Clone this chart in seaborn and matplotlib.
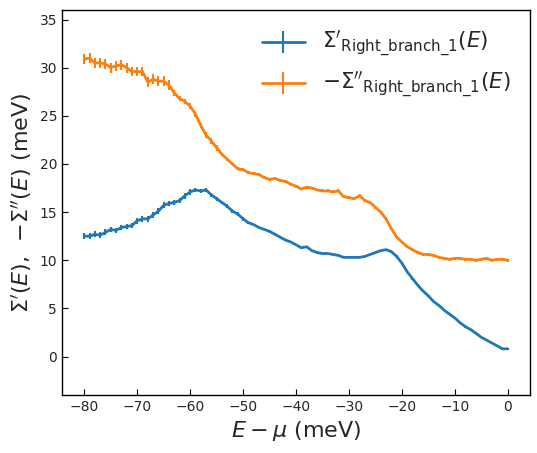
import numpy as np
import matplotlib
matplotlib.use("Agg")
import matplotlib.pyplot as plt
import seaborn as sns

# energy grid (meV)
energy = list(range(-80, 1))

# real part Sigma'
sigma_re = [12.5, 12.5, 12.7, 12.6, 12.9, 13.2, 13.1, 13.4, 13.5, 13.6,
            14.1, 14.3, 14.3, 14.7, 15.1, 15.7, 15.9, 16.0, 16.2, 16.7,
            17.1, 17.3, 17.2, 17.3, 16.8, 16.4, 16.0, 15.6, 15.1, 14.8,
            14.3, 13.9, 13.7, 13.4, 13.2, 13.0, 12.7, 12.4, 12.1, 11.9,
            11.6, 11.3, 11.4, 11.0, 10.8, 10.7, 10.7, 10.6, 10.5, 10.3,
            10.3, 10.3, 10.3, 10.4, 10.6, 10.8, 11.0, 11.1, 10.9, 10.4,
            9.7, 8.8, 8.1, 7.4, 6.8, 6.3, 5.7, 5.3, 4.8, 4.4,
            4.0, 3.5, 3.1, 2.8, 2.4, 2.0, 1.7, 1.4, 1.1, 0.8, 0.8]
sigma_re_err = [0.3] * 21 + [0.2] * 10 + [0.1] * 50

# minus imaginary part -Sigma''
sigma_im = [30.9, 31.0, 30.5, 30.5, 30.4, 30.0, 30.2, 30.3, 30.0, 29.6,
            29.6, 29.6, 28.5, 28.8, 28.6, 28.6, 28.2, 27.4, 26.8, 26.5,
            26.0, 25.2, 24.0, 23.0, 22.4, 21.7, 21.0, 20.5, 20.0, 19.5,
            19.4, 19.1, 19.0, 18.9, 18.6, 18.4, 18.5, 18.3, 18.2, 17.9,
            17.7, 17.4, 17.6, 17.5, 17.3, 17.2, 17.2, 17.1, 17.2, 16.6,
            16.5, 16.4, 16.7, 16.2, 16.0, 15.5, 15.0, 14.3, 13.3, 12.4,
            11.9, 11.4, 11.1, 10.8, 10.6, 10.6, 10.5, 10.3, 10.2, 10.1,
            10.2, 10.2, 10.1, 10.1, 10.0, 10.1, 10.2, 10.0, 10.1, 10.1, 10.0]
sigma_im_err = [0.5] * 17 + [0.3] * 9 + [0.15] * 55

sns.set_style("ticks", {"xtick.direction": "in", "ytick.direction": "in"})
colors = sns.color_palette("tab10")

fig, ax = plt.subplots(figsize=(5.37, 4.53), dpi=100)
fig.subplots_adjust(left=0.1155, right=0.987, bottom=0.128, top=0.978)

ax.errorbar(energy, sigma_re, yerr=sigma_re_err, color=colors[0], lw=2,
            elinewidth=1.5, label=r"$\Sigma'_{\mathrm{Right\_branch\_1}}(E)$")
ax.errorbar(energy, sigma_im, yerr=sigma_im_err, color=colors[1], lw=2,
            elinewidth=1.5, label=r"$-\Sigma''_{\mathrm{Right\_branch\_1}}(E)$")

ax.set_xlim(-84.2, 4.2)
ax.set_ylim(-4, 36)
ax.set_xticks(range(-80, 1, 10))
ax.set_yticks(range(0, 36, 5))
ax.tick_params(labelsize=10, length=4, color="black")
for s in ax.spines.values():
    s.set_color("black")
    s.set_linewidth(1)

ax.set_xlabel(r"$E-\mu$ (meV)", fontsize=16)
ax.set_ylabel(r"$\Sigma'(E)$,  $-\Sigma''(E)$ (meV)", fontsize=16)
ax.legend(loc="upper right", frameon=False, fontsize=15.5)

fig.savefig("out.png", dpi=100)
